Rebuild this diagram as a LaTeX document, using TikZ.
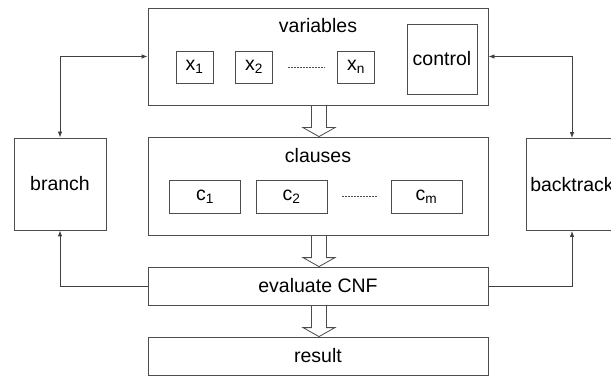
\documentclass[tikz,border=0pt]{standalone}
\usepackage{fontspec}
\setmainfont{Liberation Sans}
\usetikzlibrary{arrows.meta,calc}

% hollow block arrow pointing down from #1 to #2
\newcommand{\flowarrow}[2]{%
  \draw ($(#1)+(-7.5,0)$) -- ($(#2)+(-7.5,-9)$) -- ($(#2)+(-16,-9)$) -- (#2)
    -- ($(#2)+(16,-9)$) -- ($(#2)+(7.5,-9)$) -- ($(#1)+(7.5,0)$);}

\begin{document}
\begin{tikzpicture}[x=1pt, y=-1pt, line width=0.8pt, draw=black!70,
  every node/.style={text=black, font=\fontsize{19.5}{22}\selectfont},
  box/.style={draw=black!70, rectangle, inner sep=0pt},
  wide/.style={box, minimum width=340pt},
  var/.style={box, minimum width=37pt, minimum height=32pt},
  cl/.style={box, minimum width=71pt, minimum height=33pt},
  side/.style={box, minimum width=92pt, minimum height=92pt},
  tip/.style={black!75, >={Latex[length=6pt,width=4.5pt]}},
  dots/.style={dash pattern=on 2pt off 1pt, line width=0.6pt}]
  \useasboundingbox (0,0) rectangle (611,377);

  % variables
  \node[wide, minimum height=97pt] (vars) at (318,56.5) {};
  \node (vlabel) at (318,26) {variables};
  \node[var] (x1) at (194.5,67) {x\textsubscript{1}};
  \node[var] (x2) at (254,67) {x\textsubscript{2}};
  \node[var] (xn) at (356,67) {x\textsubscript{n}};
  \draw[dots] ([xshift=15pt]x2.east) -- ([xshift=-12pt]xn.west);
  \node[box, minimum width=70pt, minimum height=70pt] (ctrl) at (442,59) {control};

  % clauses
  \node[wide, minimum height=98pt] (clauses) at (318,186) {};
  \node (clabel) at (318,156) {clauses};
  \node[cl] (c1) at (205,196.5) {c\textsubscript{1}};
  \node[cl] (c2) at (291.5,196.5) {c\textsubscript{2}};
  \node[cl] (cm) at (426.5,196.5) {c\textsubscript{m}};
  \draw[dots] ([xshift=15pt]c2.east) -- ([xshift=-13pt]cm.west);

  \node[wide, minimum height=38pt] (eval) at (318,286) {evaluate CNF};
  \node[wide, minimum height=38pt] (result) at (318,356) {result};

  \node[side] (branch) at (60,184) {branch};
  \node[side] (back) at (572,184.5) {backtrack};

  \flowarrow{[xshift=1pt]vars.south}{[xshift=1pt]clauses.north}
  \flowarrow{[xshift=1pt]clauses.south}{[xshift=1pt]eval.north}
  \flowarrow{[xshift=1pt]eval.south}{[xshift=1pt]result.north}

  \draw[tip, <->] (branch.north) |- (vars.west);
  \draw[tip, <->] (back.north) |- (vars.east);
  \draw[tip, ->] (eval.west) -| (branch.south);
  \draw[tip, ->] (eval.east) -| (back.south);
\end{tikzpicture}
\end{document}
